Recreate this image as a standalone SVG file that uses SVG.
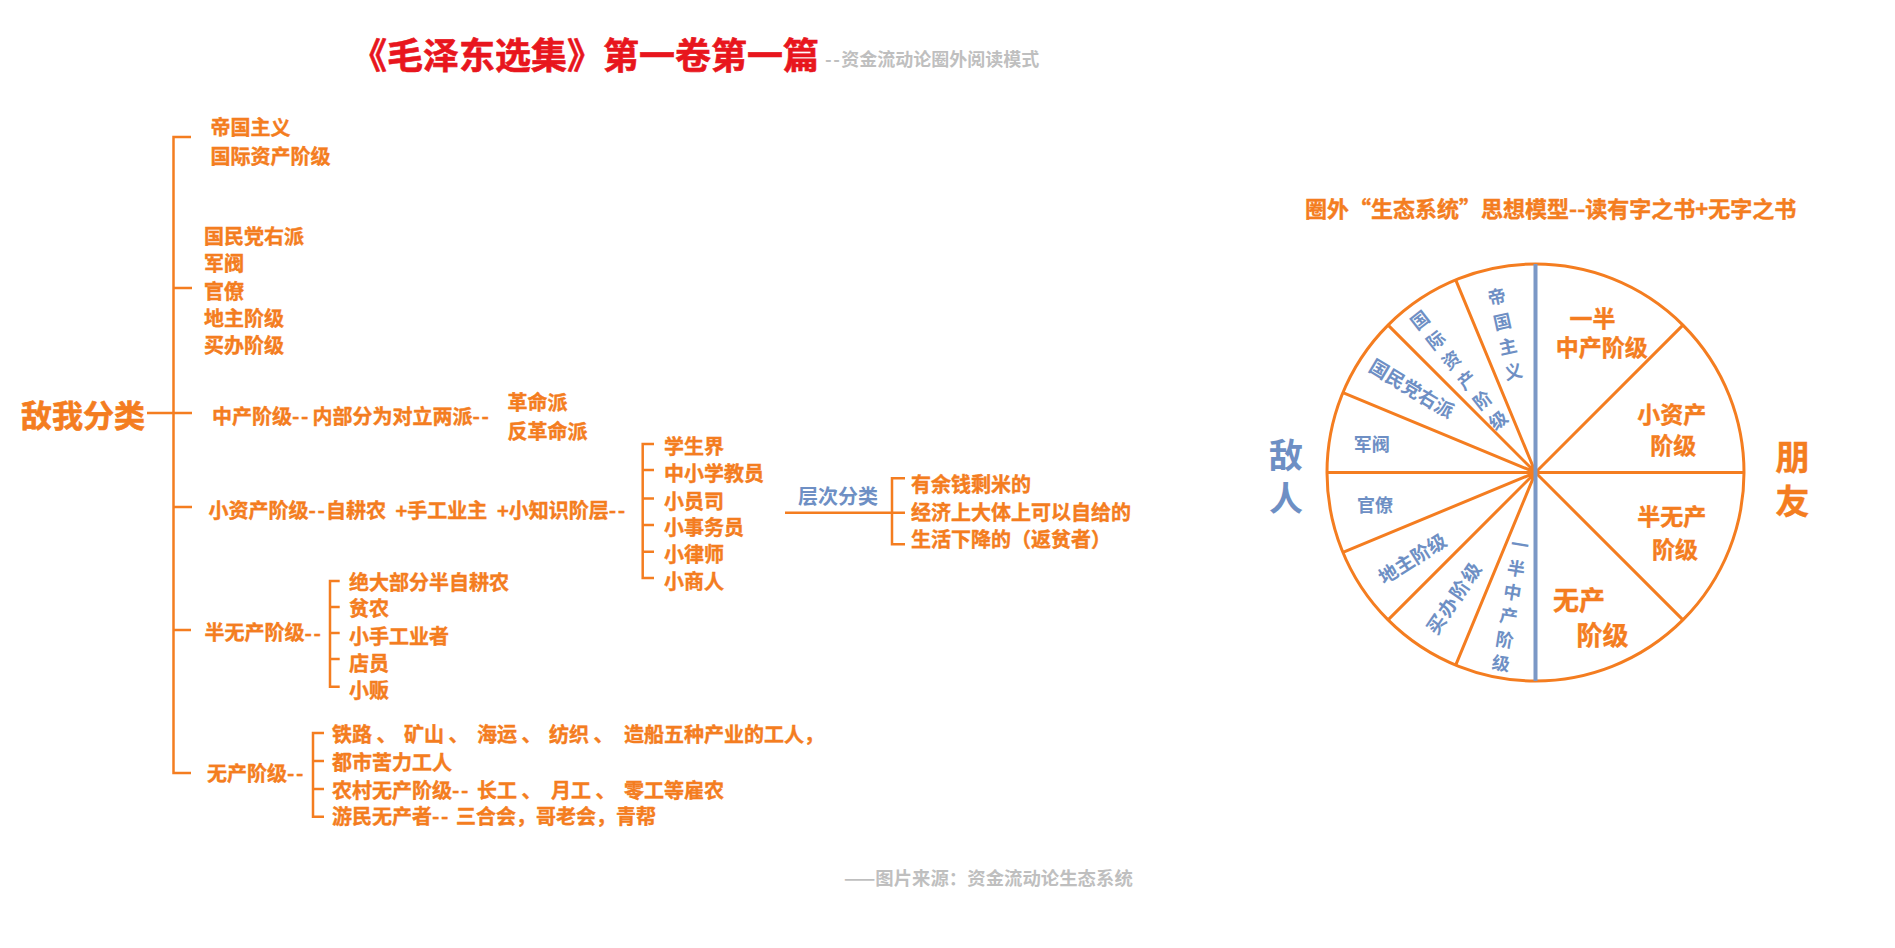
<svg xmlns="http://www.w3.org/2000/svg" width="1895" height="948" viewBox="0 0 1895 948">
<style>
text{font-family:"Noto Sans CJK SC","Liberation Sans",sans-serif;font-weight:bold;dominant-baseline:central}
.o{fill:#f47d20;font-size:20px;stroke:#f47d20;stroke-width:0.4px}
.b{fill:#6e8fc4}
.pb{fill:#6e8fc4;font-size:18px;text-anchor:middle}
.po{fill:#f47d20;text-anchor:middle;stroke:#f47d20;stroke-width:0.4px}
.v{writing-mode:vertical-rl}
.g{fill:#bfbfbf}
.d{letter-spacing:1.5px}
.ln{fill:none;stroke:#f47d20;stroke-width:2.5}
</style>
<rect width="1895" height="948" fill="#fff"/>
<g id="title">
<text x="351" y="53" style="fill:#e8161d;font-size:36px;stroke:#e8161d;stroke-width:0.6px">《毛泽东选集》第一卷第一篇</text>
<text x="825" y="58" class="g" style="font-size:18px"><tspan class="d">--</tspan>资金流动论圈外阅读模式</text>
</g>
<g id="connectors">
<path class="ln" d="M191 137H173.5V773H191M173.5 288H192M147 413H192M173.5 507H192M173.5 630H191"/>
<path class="ln" d="M654 444H642.7V578H654M642.7 470H654M642.7 498.5H654M642.7 525H654M642.7 551.7H654"/>
<path class="ln" d="M785 512.7H905M905 478.3H892V544.3H905"/>
<path class="ln" d="M339.7 581H330V686.7H339.7M330 607H339.7M330 633H339.7M330 659H339.7"/>
<path class="ln" d="M324 733H313V816.7H324M313 761H324M313 789H324"/>
</g>
<g id="root"><text x="21" y="413" class="o" style="font-size:31px;stroke-width:0.6px">敌我分类</text></g>
<g id="n-imperial">
<text x="210.5" y="126.7" class="o">帝国主义</text>
<text x="210.5" y="155" class="o">国际资产阶级</text>
</g>
<g id="n-warlords">
<text x="204" y="235" class="o">国民党右派</text>
<text x="204" y="262.5" class="o">军阀</text>
<text x="204" y="290" class="o">官僚</text>
<text x="204" y="317.5" class="o">地主阶级</text>
<text x="204" y="344" class="o">买办阶级</text>
</g>
<g id="n-middle"><text y="415" class="o"><tspan x="212">中产阶级</tspan><tspan class="d">--</tspan><tspan x="312.5">内部分为对立两派</tspan><tspan class="d">--</tspan></text></g>
<g id="n-middle-sub">
<text x="507.5" y="401.7" class="o">革命派</text>
<text x="507.5" y="430" class="o">反革命派</text>
</g>
<g id="n-petty"><text y="509" class="o"><tspan x="208.5">小资产阶级</tspan><tspan class="d">--</tspan><tspan x="326">自耕农 </tspan><tspan x="395.5">+手工业主 </tspan><tspan x="497">+小知识阶层</tspan><tspan class="d">--</tspan></text></g>
<g id="n-petty-sub">
<text x="664" y="445" class="o">学生界</text>
<text x="664" y="472.5" class="o">中小学教员</text>
<text x="664" y="500" class="o">小员司</text>
<text x="664" y="526" class="o">小事务员</text>
<text x="664" y="553" class="o">小律师</text>
<text x="664" y="580.5" class="o">小商人</text>
</g>
<g id="n-level"><text x="798" y="495" class="b" style="font-size:20px">层次分类</text></g>
<g id="n-level-sub">
<text x="911" y="483.3" class="o">有余钱剩米的</text>
<text x="911" y="511.7" class="o">经济上大体上可以自给的</text>
<text x="911" y="538.3" class="o">生活下降的（返贫者）</text>
</g>
<g id="n-semi"><text x="204.5" y="631.5" class="o">半无产阶级<tspan class="d">--</tspan></text></g>
<g id="n-semi-sub">
<text x="349" y="581" class="o">绝大部分半自耕农</text>
<text x="349" y="607.5" class="o">贫农</text>
<text x="349" y="635" class="o">小手工业者</text>
<text x="349" y="662.5" class="o">店员</text>
<text x="349" y="689" class="o">小贩</text>
</g>
<g id="n-prol"><text x="207" y="772" class="o">无产阶级<tspan class="d">--</tspan></text></g>
<g id="n-prol-sub">
<text y="733" class="o"><tspan x="332">铁路 、 </tspan><tspan x="404">矿山 、 </tspan><tspan x="477">海运 、 </tspan><tspan x="549">纺织 、 </tspan><tspan x="624">造船五种产业的工人，</tspan></text>
<text x="332" y="761.5" class="o">都市苦力工人</text>
<text y="789" class="o"><tspan x="332">农村无产阶级</tspan><tspan class="d">--</tspan><tspan x="477">长工 、 </tspan><tspan x="551">月工 、 </tspan><tspan x="624">零工等雇农</tspan></text>
<text y="815" class="o"><tspan x="332">游民无产者</tspan><tspan class="d">--</tspan><tspan x="456">三合会，哥老会，青帮</tspan></text>
</g>
<g id="pie-title"><text x="1305" y="206.7" style="fill:#f47d20;font-size:22px;stroke:#f47d20;stroke-width:0.4px">圈外“生态系统”思想模型--读有字之书+无字之书</text></g>
<g id="pie">
<circle cx="1535.5" cy="472.5" r="208.5" fill="#fff" stroke="#f47d20" stroke-width="3"/>
<path fill="none" stroke="#f47d20" stroke-width="3" d="M1327 472.5H1744M1535.5 472.5L1342.9 392.7M1535.5 472.5L1388.1 325.1M1535.5 472.5L1455.7 279.9M1535.5 472.5L1342.9 552.3M1535.5 472.5L1388.1 619.9M1535.5 472.5L1455.7 665.1M1535.5 472.5L1682.9 325.1M1535.5 472.5L1682.9 619.9"/>
<path stroke="#7b98c6" stroke-width="4" d="M1535.5 264V681"/>
</g>
<g id="pie-enemy">
<g transform="translate(1505 334) rotate(-12.5)"><text class="pb v" x="0" y="3.7" style="letter-spacing:7.5px">帝国主义</text></g>
<g transform="translate(1459 370) rotate(-38)"><text class="pb v" x="0" y="3.7" style="letter-spacing:7.4px">国际资产阶级</text></g>
<g transform="translate(1412.5 387.5) rotate(31)"><text class="pb" x="0" y="0" style="font-size:19px">国民党右派</text></g>
<text class="pb" x="1371.7" y="443.3">军阀</text>
<text class="pb" x="1375" y="504">官僚</text>
<g transform="translate(1411.7 557.5) rotate(-32.3)"><text class="pb" x="0" y="0" style="font-size:19px">地主阶级</text></g>
<g transform="translate(1452.5 597.5) rotate(-55.8)"><text class="pb" x="0.9" y="0" style="font-size:19px;letter-spacing:1.8px">买办阶级</text></g>
<g transform="translate(1510.5 604) rotate(9.1)"><text class="pb v" x="0" y="3" style="letter-spacing:6px">一半中产阶级</text></g>
</g>
<g id="pie-friend">
<text class="po" style="font-size:23px"><tspan x="1592.5" y="317">一半</tspan><tspan x="1601.7" y="346">中产阶级</tspan></text>
<text class="po" style="font-size:23px"><tspan x="1671.7" y="412.5">小资产</tspan><tspan x="1673.3" y="444">阶级</tspan></text>
<text class="po" style="font-size:23px"><tspan x="1671.7" y="515">半无产</tspan><tspan x="1675" y="547.5">阶级</tspan></text>
<text class="po" style="font-size:26px"><tspan x="1579" y="598">无产</tspan><tspan x="1602.5" y="633.3">阶级</tspan></text>
</g>
<g id="label-enemy"><text class="b" style="font-size:34px;text-anchor:middle"><tspan x="1286" y="452.5">敌</tspan><tspan x="1286" y="496">人</tspan></text></g>
<g id="label-friend"><text class="po" style="font-size:34px"><tspan x="1792.5" y="455">朋</tspan><tspan x="1792.5" y="499">友</tspan></text></g>
<g id="footer"><text x="844" y="876.7" class="g" style="font-size:18.4px">——图片来源：资金流动论生态系统</text></g>
</svg>
